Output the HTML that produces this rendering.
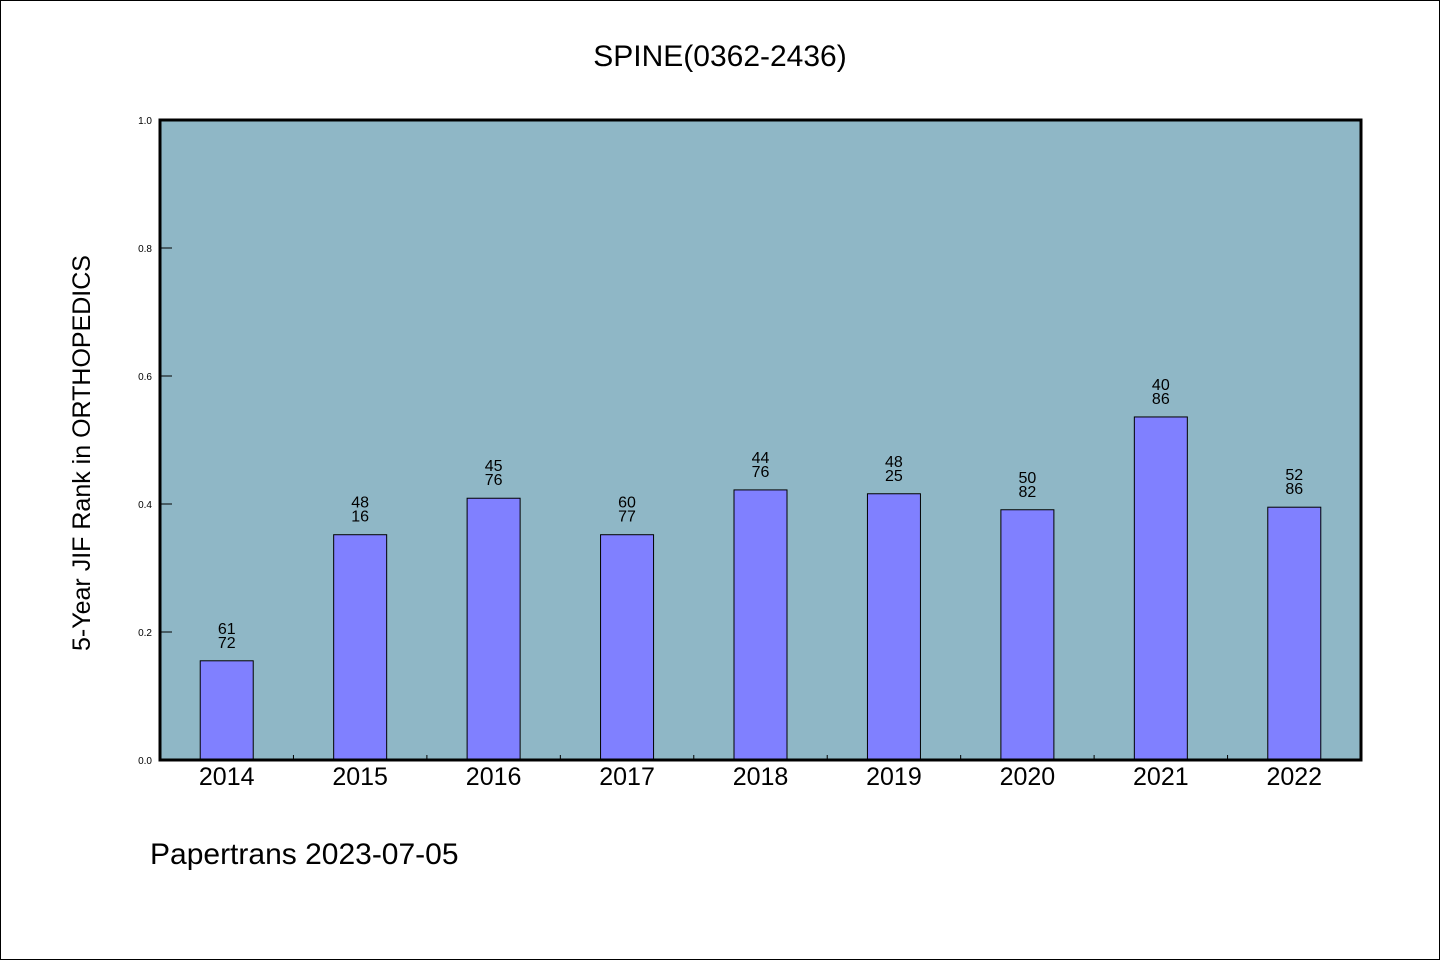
<!DOCTYPE html>
<html><head><meta charset="utf-8"><style>
body{margin:0;background:#fff}
svg{display:block}
text{font-family:"WenQuanYi Zen Hei","Liberation Sans",sans-serif;fill:#000}
</style></head><body>
<svg id="chart" width="1440" height="960" xmlns="http://www.w3.org/2000/svg">
<rect x="0.5" y="0.5" width="1439" height="959" fill="#fff" stroke="#000"/>
<text x="720" y="66" font-size="30" text-anchor="middle">SPINE(0362-2436)</text>
<rect x="160" y="120" width="1201" height="640" fill="#8fb7c6"/>
<g id="bars"></g>
<g id="axes"></g>
<rect x="160" y="120" width="1201" height="640" fill="none" stroke="#000" stroke-width="3"/>
<text transform="translate(90,453) rotate(-90)" font-size="25" text-anchor="middle">5-Year JIF Rank in ORTHOPEDICS</text>
<text x="150" y="864" font-size="30">Papertrans 2023-07-05</text>
</svg>
<script>
const categories=["2014","2015","2016","2017","2018","2019","2020","2021","2022"];
const values=[0.155,0.352,0.409,0.352,0.422,0.416,0.391,0.536,0.395];
const labelTop=["61","48","45","60","44","48","50","40","52"];
const labelBottom=["72","16","76","77","76","25","82","86","86"];
const yTicks=[0,0.2,0.4,0.6,0.8,1.0];
const NS="http://www.w3.org/2000/svg";
const x0=160,x1=1361,y0=760,y1=120;
const step=(x1-x0)/categories.length;
const xc=i=>x0+step*(i+0.5);
const ys=v=>y0-(y0-y1)*v;
function mk(t,a,p){const e=document.createElementNS(NS,t);for(const k in a)e.setAttribute(k,a[k]);p.appendChild(e);return e;}
const bars=document.getElementById('bars'),axes=document.getElementById('axes');
categories.forEach((c,i)=>{
 const r=mk('rect',{x:xc(i)-26.5,y:ys(values[i]),width:53,height:y0-ys(values[i]),fill:'#8080ff',stroke:'#000','stroke-width':1},bars);
 
 
 const t1=mk('text',{x:xc(i),y:ys(values[i])-27,'font-size':16,'text-anchor':'middle'},bars);t1.textContent=labelTop[i];
 
 
 const t2=mk('text',{x:xc(i),y:ys(values[i])-13,'font-size':16,'text-anchor':'middle'},bars);t2.textContent=labelBottom[i];
 
 
 const xl=mk('text',{x:xc(i),y:785,'font-size':25,'text-anchor':'middle'},axes);xl.textContent=c;
 
 
 if(i>0){const tk=mk('line',{x1:x0+step*i,x2:x0+step*i,y1:y0,y2:y0-5,stroke:'#000'},axes);
 
 }
});
yTicks.forEach(v=>{
 const tk=mk('line',{x1:x0,x2:x0+12,y1:ys(v),y2:ys(v),stroke:'#000'},axes);
 
 
 const tl=mk('text',{x:152,y:ys(v)+4,'font-size':10,'text-anchor':'end'},axes);tl.textContent=v.toFixed(1);
 
 
});
</script>
</body></html>
